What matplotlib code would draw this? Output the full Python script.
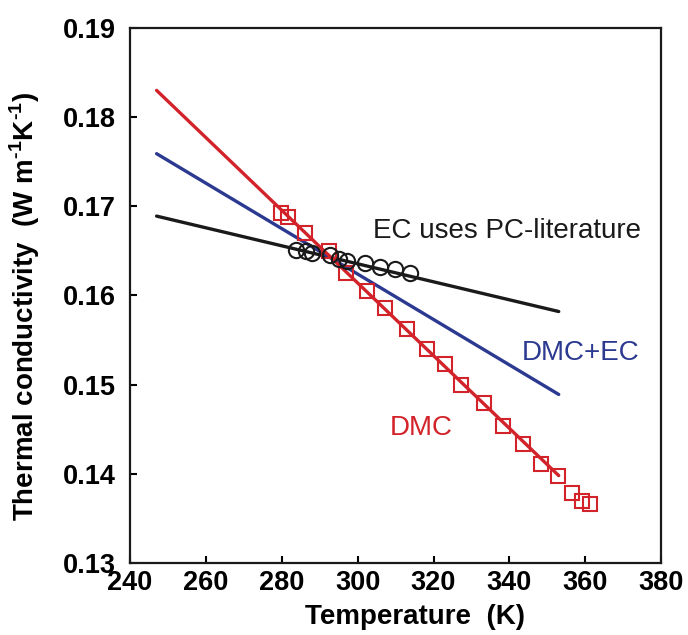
import matplotlib
matplotlib.use("Agg")
import matplotlib.pyplot as plt

plt.rcParams['font.family'] = ['Liberation Sans', 'DejaVu Sans']
plt.rcParams['mathtext.fontset'] = 'custom'
plt.rcParams['mathtext.rm'] = 'Liberation Sans:bold'
plt.rcParams['mathtext.bf'] = 'Liberation Sans:bold'

# Measured DMC thermal conductivity (squares)
dmc_T = [279.8, 281.7, 286.1, 292.5, 297.0, 302.5, 307.2, 313.0, 318.3, 323.0,
         327.3, 333.3, 338.3, 343.6, 348.4, 352.8, 356.5, 359.2, 361.3]
dmc_k = [0.1693, 0.1688, 0.1670, 0.1650, 0.1625, 0.1605, 0.1586, 0.1562, 0.1540, 0.1523,
         0.1500, 0.1479, 0.1454, 0.1433, 0.1411, 0.1398, 0.1379, 0.1369, 0.1366]

# EC from PC literature (circles)
ec_T = [283.8, 286.4, 288.0, 292.7, 295.1, 297.2, 302.0, 305.9, 309.9, 313.8]
ec_k = [0.1651, 0.1650, 0.1648, 0.1645, 0.1641, 0.1639, 0.1636, 0.1632, 0.1630, 0.1625]

# Linear fits, end points
fit_T = [247.0, 353.0]
fit_dmc = [0.1830, 0.1398]
fit_mix = [0.1759, 0.1489]
fit_ec = [0.1689, 0.1582]

xticks = [240, 260, 280, 300, 320, 340, 360, 380]
yticks = [0.13, 0.14, 0.15, 0.16, 0.17, 0.18, 0.19]

red = '#d2232a'
blue = '#2b3990'
black = '#1a1a1a'

fig = plt.figure(figsize=(6.88, 6.35), dpi=100)
ax = fig.add_axes([0.189, 0.1134, 0.772, 0.8426])

ax.plot(fit_T, fit_ec, color=black, lw=2.4, solid_capstyle='round', zorder=2)
ax.plot(fit_T, fit_mix, color=blue, lw=2.4, solid_capstyle='round', zorder=2)
ax.plot(fit_T, fit_dmc, color=red, lw=2.4, solid_capstyle='round', zorder=3)
ax.plot(dmc_T, dmc_k, linestyle='none', marker='s', ms=9.5, mfc='none',
        mec=red, mew=1.5, zorder=4)
ax.plot(ec_T, ec_k, linestyle='none', marker='o', ms=11, mfc='none',
        mec=black, mew=1.5, zorder=5)

ax.text(304.1, 0.1672, 'EC uses PC-literature', color=black, fontsize=20,
        va='center', ha='left')
ax.text(343.3, 0.1536, 'DMC+EC', color=blue, fontsize=20, va='center', ha='left')
ax.text(308.5, 0.1451, 'DMC', color=red, fontsize=20, va='center', ha='left')

ax.set_xlim(240, 380)
ax.set_ylim(0.13, 0.19)
ax.set_xticks(xticks)
ax.set_yticks(yticks)
ax.set_xticklabels([str(t) for t in xticks])
ax.set_yticklabels([f'{t:.2f}' for t in yticks])
ax.tick_params(direction='in', length=5, width=1.5, labelsize=19.5,
               top=False, right=False)
ax.tick_params(axis='x', pad=5)
ax.tick_params(axis='y', pad=10)
for lab in ax.get_xticklabels() + ax.get_yticklabels():
    lab.set_fontweight('bold')
for sp in ax.spines.values():
    sp.set_linewidth(1.6)
    sp.set_color('#1a1a1a')

ax.set_xlabel('Temperature  (K)', fontsize=20, fontweight='bold')
ax.set_ylabel(r'Thermal conductivity  (W m$^{\text{-1}}$K$^{\text{-1}}$)',
              fontsize=20, fontweight='bold')
ax.xaxis.set_label_coords(0.537, -0.076)
ax.yaxis.set_label_coords(-0.166, 0.48)

fig.savefig('out.png', dpi=100)
